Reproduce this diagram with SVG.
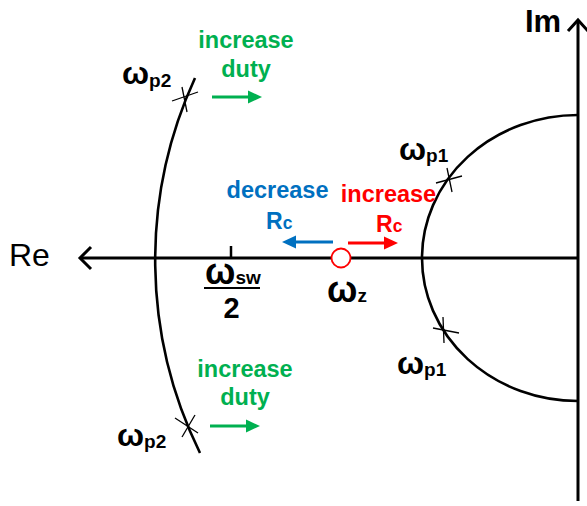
<svg xmlns="http://www.w3.org/2000/svg" width="587" height="506" viewBox="0 0 587 506">
<style>
.ax{stroke:#000;stroke-width:3;fill:none}
.arc{stroke:#000;stroke-width:2.6;fill:none}
.x{stroke:#000;stroke-width:1.3}
.t{font-family:"Liberation Sans",Arial,sans-serif;font-weight:bold}
.om{font-size:32px}
.om2{font-size:36px}
.sub{font-size:19px}
.g{fill:#00b050}
.b{fill:#0070c0}
.r{fill:#ff0000}
.big{font-size:23.5px}
</style>
<g id="axes">
<line class="ax" x1="80" y1="258" x2="578" y2="258"/>
<polyline class="ax" points="91,247 80,258 91,269" stroke-width="2.2"/>
<line class="ax" x1="578" y1="20" x2="578" y2="501"/>
<polyline class="ax" points="568,31 578,20 588,31" stroke-width="2.2"/>
<text x="9" y="266" font-family="Liberation Sans,Arial,sans-serif" font-size="32">Re</text>
<text class="t" x="525" y="32" font-size="31">Im</text>
</g>
<g id="connectors">
<path class="arc" d="M195,78 A437,437 0 0,0 200,453"/>
<path class="arc" d="M578,115 A156,143 0 1,0 578,401"/>
</g>
<g id="p2top">
<line class="x" x1="172" y1="101" x2="198" y2="92"/>
<line class="x" x1="182" y1="87" x2="187" y2="112"/>
<text class="t" x="122" y="84"><tspan class="om">ω</tspan><tspan class="sub" dy="3">p2</tspan></text>
</g>
<g id="p2bot">
<line class="x" x1="175" y1="418" x2="198" y2="433"/>
<line class="x" x1="182" y1="437" x2="195" y2="415"/>
<text class="t" x="117" y="446"><tspan class="om">ω</tspan><tspan class="sub" dy="2">p2</tspan></text>
</g>
<g id="p1top">
<line class="x" x1="436" y1="183" x2="462" y2="176"/>
<line class="x" x1="447" y1="168" x2="452" y2="192"/>
<text class="t" x="399" y="160"><tspan class="om">ω</tspan><tspan class="sub" dy="2">p1</tspan></text>
</g>
<g id="p1bot">
<line class="x" x1="433" y1="328" x2="459" y2="333"/>
<line class="x" x1="443" y1="317" x2="444" y2="343"/>
<text class="t" x="397" y="374"><tspan class="om">ω</tspan><tspan class="sub" dy="2">p1</tspan></text>
</g>
<g id="dutytop">
<text class="t g big" x="246" y="48" text-anchor="middle">increase</text>
<text class="t g big" x="246" y="77" text-anchor="middle">duty</text>
<line x1="212" y1="97" x2="250" y2="97" stroke="#00b050" stroke-width="3"/>
<polygon class="g" points="248,90.5 262,97 248,103.5"/>
</g>
<g id="dutybot">
<text class="t g big" x="245" y="377" text-anchor="middle">increase</text>
<text class="t g big" x="245" y="405" text-anchor="middle">duty</text>
<line x1="210" y1="426" x2="248" y2="426" stroke="#00b050" stroke-width="3"/>
<polygon class="g" points="246,419.5 260,426 246,432.5"/>
</g>
<g id="decrc">
<text class="t b big" x="277.5" y="198" text-anchor="middle">decrease</text>
<text class="t b" x="266" y="229"><tspan font-size="23">R</tspan><tspan font-size="17.5">c</tspan></text>
<line x1="294" y1="242" x2="333" y2="242" stroke="#0070c0" stroke-width="3"/>
<polygon class="b" points="296,235.5 282,242 296,248.5"/>
</g>
<g id="incrc">
<text class="t r big" x="388.5" y="202" text-anchor="middle">increase</text>
<text class="t r" x="376" y="232"><tspan font-size="23">R</tspan><tspan font-size="17.5">c</tspan></text>
<line x1="348" y1="243" x2="386" y2="243" stroke="#ff0000" stroke-width="3"/>
<polygon class="r" points="384,236.5 398,243 384,249.5"/>
</g>
<g id="wz">
<circle cx="341" cy="258" r="9.5" fill="#fff" stroke="#ff0000" stroke-width="1.8"/>
<text class="t" x="327" y="302"><tspan class="om2">ω</tspan><tspan class="sub">z</tspan></text>
</g>
<g id="wsw">
<line x1="231" y1="246" x2="231" y2="258" stroke="#000" stroke-width="2.5"/>
<text class="t" x="205" y="284"><tspan class="om2">ω</tspan><tspan class="sub">sw</tspan></text>
<line x1="204" y1="288" x2="260" y2="288" stroke="#000" stroke-width="2.2"/>
<text class="t" x="231.5" y="318" text-anchor="middle" font-size="29">2</text>
</g>
</svg>
